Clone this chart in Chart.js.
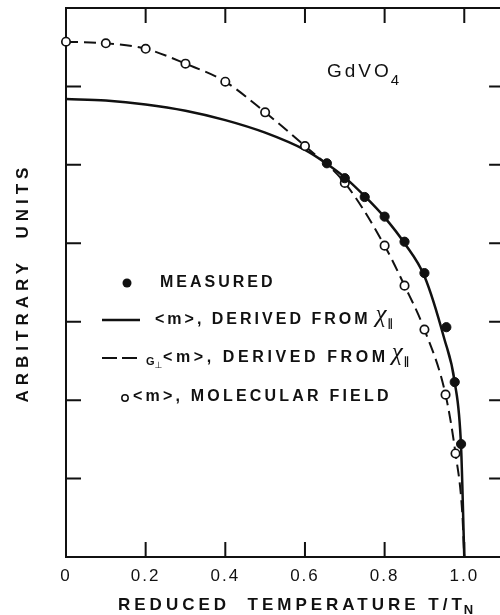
<!DOCTYPE html>
<html>
<head>
<meta charset="utf-8">
<title>GdVO4 reduced temperature</title>
<script src="https://cdn.jsdelivr.net/npm/chart.js@4.4.0/dist/chart.umd.min.js"></script>
<style>
  html, body { margin: 0; padding: 0; background: #fff; overflow: hidden; }
  canvas { display: block; }
</style>
</head>
<body>
<canvas id="gdvoChart" width="510" height="615"></canvas>
<script>
// values (x = T/TN, y = arbitrary units)
const tempMeasured = [0.655, 0.70, 0.75, 0.80, 0.85, 0.90, 0.955, 0.976, 0.992];
const momentMeasured = [5.02, 4.83, 4.59, 4.34, 4.02, 3.62, 2.93, 2.23, 1.44];

const tempDerived = [0, 0.1, 0.2, 0.3, 0.4, 0.5, 0.6, 0.65, 0.7, 0.75, 0.8, 0.85, 0.9, 0.95, 0.976, 0.992, 1.0];
const momentDerived = [5.84, 5.82, 5.77, 5.69, 5.57, 5.41, 5.19, 5.03, 4.84, 4.60, 4.33, 4.00, 3.58, 2.78, 2.23, 1.40, 0];

const tempDerivedG = [0, 0.1, 0.2, 0.3, 0.4, 0.5, 0.6, 0.7, 0.8, 0.85, 0.9, 0.953, 0.978, 0.995, 1.0];
const momentDerivedG = [6.57, 6.55, 6.48, 6.29, 6.06, 5.67, 5.24, 4.77, 3.97, 3.46, 2.90, 2.07, 1.32, 0.56, 0];

const tempMolecular = [0, 0.1, 0.2, 0.3, 0.4, 0.5, 0.6, 0.7, 0.8, 0.85, 0.9, 0.953, 0.978];
const momentMolecular = [6.57, 6.55, 6.48, 6.29, 6.06, 5.67, 5.24, 4.77, 3.97, 3.46, 2.90, 2.07, 1.32];

const xTicks = [0, 0.2, 0.4, 0.6, 0.8, 1.0];
const yTicks = [1, 2, 3, 4, 5, 6];

const ink = "#111";
const sans = "'Liberation Sans', Arial, sans-serif";
const tickLen = 15;

const toPoints = (xs, ys) => xs.map((x, i) => ({ x: x, y: ys[i] }));

function drawText(ctx, str, px, py, font, spacing, align) {
  ctx.font = font;
  ctx.letterSpacing = spacing + "px";
  ctx.textAlign = align || "left";
  ctx.textBaseline = "middle";
  ctx.fillText(str, px, py);
  return px + ctx.measureText(str).width;
}

// frame, inward ticks, legend and labels
const decorations = {
  id: "decorations",
  beforeDraw(chart) {
    chart.ctx.letterSpacing = "2px";
  },
  beforeDatasetsDraw(chart) {
    const { ctx, chartArea: a, scales: { x, y } } = chart;
    ctx.save();
    ctx.strokeStyle = ink;
    ctx.lineWidth = 2;
    ctx.strokeRect(a.left, a.top, a.right - a.left, a.bottom - a.top);
    ctx.beginPath();
    xTicks.forEach(v => {
      if (v <= 0) return;
      const px = x.getPixelForValue(v);
      ctx.moveTo(px, a.bottom);
      ctx.lineTo(px, a.bottom - tickLen);
      ctx.moveTo(px, a.top);
      ctx.lineTo(px, a.top + tickLen);
    });
    yTicks.forEach(v => {
      const py = y.getPixelForValue(v);
      ctx.moveTo(a.left, py);
      ctx.lineTo(a.left + tickLen, py);
      ctx.moveTo(a.right, py);
      ctx.lineTo(a.right - tickLen, py);
    });
    ctx.stroke();
    ctx.restore();
  },
  afterDraw(chart) {
    const { ctx, chartArea: a } = chart;
    const bold = "bold 16px " + sans;
    const chi = "italic 25px 'Liberation Serif', serif";
    const par = "bold 11px 'DejaVu Sans', sans-serif";
    ctx.save();
    ctx.fillStyle = ink;
    ctx.strokeStyle = ink;

    // compound name
    let end = drawText(ctx, "GdVO", 327, 72, "19px " + sans, 3);
    drawText(ctx, "4", end - 1, 81, "15px " + sans, 0);

    // legend: measured
    ctx.beginPath();
    ctx.arc(127, 283, 4.5, 0, Math.PI * 2);
    ctx.fill();
    drawText(ctx, "MEASURED", 160, 283, bold, 3);

    // legend: solid line
    ctx.lineWidth = 2.5;
    ctx.beginPath();
    ctx.moveTo(102, 320);
    ctx.lineTo(140, 320);
    ctx.stroke();
    end = drawText(ctx, "<m>, DERIVED FROM", 155, 320, bold, 3);
    end = drawText(ctx, "χ", end + 5, 315, chi, 0);
    drawText(ctx, "∥", end + 1, 324, par, 0);

    // legend: dashed line
    ctx.lineWidth = 2;
    ctx.setLineDash([15, 5]);
    ctx.beginPath();
    ctx.moveTo(102, 358);
    ctx.lineTo(137, 358);
    ctx.stroke();
    ctx.setLineDash([]);
    end = drawText(ctx, "G", 146, 362, "bold 11px " + sans, 0);
    drawText(ctx, "⊥", end, 366, "9px 'DejaVu Sans', sans-serif", 0);
    end = drawText(ctx, "<m>, DERIVED FROM", 163, 358, bold, 3.6);
    end = drawText(ctx, "χ", end + 3, 353, chi, 0);
    drawText(ctx, "∥", end + 1, 362, par, 0);

    // legend: molecular field
    ctx.lineWidth = 1.5;
    ctx.beginPath();
    ctx.arc(125, 398, 3.2, 0, Math.PI * 2);
    ctx.stroke();
    drawText(ctx, "<m>, MOLECULAR FIELD", 133, 397, bold, 3.2);

    // axis titles
    end = drawText(ctx, "REDUCED  TEMPERATURE T/T", 118, 605, "bold 17px " + sans, 4);
    drawText(ctx, "N", end - 2, 610, "bold 13px " + sans, 0);

    ctx.translate(23, (a.top + a.bottom) / 2);
    ctx.rotate(-Math.PI / 2);
    drawText(ctx, "ARBITRARY  UNITS", 0, 0, "bold 17px " + sans, 5, "center");
    ctx.restore();
  }
};

new Chart(document.getElementById("gdvoChart"), {
  type: "scatter",
  data: {
    datasets: [
      {
        label: "Measured",
        data: toPoints(tempMeasured, momentMeasured),
        pointRadius: 4.6,
        pointBackgroundColor: ink,
        pointBorderColor: ink,
        pointBorderWidth: 1,
        showLine: false,
        order: 0,
        clip: false
      },
      {
        label: "<m>, molecular field",
        data: toPoints(tempMolecular, momentMolecular),
        pointRadius: 4.2,
        pointBackgroundColor: "#fff",
        pointBorderColor: ink,
        pointBorderWidth: 1.7,
        showLine: false,
        order: 1,
        clip: false
      },
      {
        label: "<m>, derived from χ∥",
        data: toPoints(tempDerived, momentDerived),
        showLine: true,
        borderColor: ink,
        borderWidth: 2.5,
        pointRadius: 0,
        cubicInterpolationMode: "monotone",
        order: 2
      },
      {
        label: "G⊥ <m>, derived from χ∥",
        data: toPoints(tempDerivedG, momentDerivedG),
        showLine: true,
        borderColor: ink,
        borderWidth: 2,
        borderDash: [12, 6],
        pointRadius: 0,
        cubicInterpolationMode: "monotone",
        order: 3
      }
    ]
  },
  options: {
    responsive: false,
    animation: false,
    layout: { padding: { top: 8, right: 4, left: 0, bottom: 0 } },
    plugins: {
      legend: { display: false },
      tooltip: { enabled: false }
    },
    scales: {
      x: {
        type: "linear",
        min: 0,
        max: 1.1,
        afterBuildTicks: s => { s.ticks = xTicks.map(v => ({ value: v })); },
        afterFit: s => { s.height = 58; },
        grid: { display: false, drawTicks: false },
        border: { display: false },
        ticks: {
          color: ink,
          padding: 9,
          font: { family: sans, size: 17 },
          callback: v => (v === 0 ? "0" : v.toFixed(1))
        }
      },
      y: {
        type: "linear",
        min: 0,
        max: 7,
        afterFit: s => { s.width = 66; },
        grid: { display: false, drawTicks: false },
        border: { display: false },
        ticks: { display: false }
      }
    }
  },
  plugins: [decorations]
});
</script>
</body>
</html>
